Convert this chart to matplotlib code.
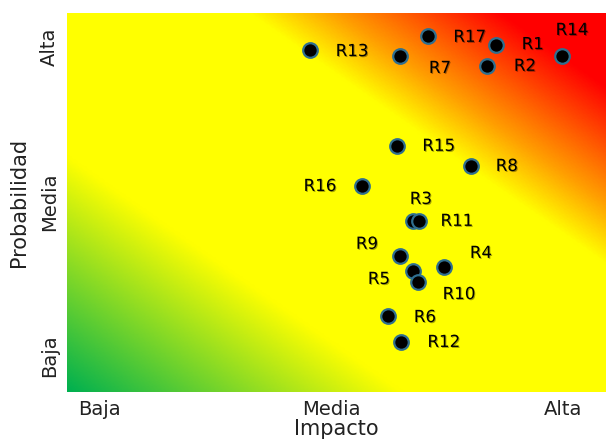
import numpy as np
import matplotlib
matplotlib.use("Agg")
import matplotlib.pyplot as plt
from matplotlib.colors import LinearSegmentedColormap
import matplotlib.patheffects as pe

# risk data (impacto: Baja=0, Media=5, Alta=10 ; probabilidad idem)
risks = ["R1", "R2", "R3", "R4", "R5", "R6", "R7", "R8", "R9", "R10",
         "R11", "R12", "R13", "R14", "R15", "R16", "R17"]
impacto = [8.55, 8.36, 6.76, 7.43, 6.76, 6.22, 6.48, 8.01, 6.48, 6.87,
           6.89, 6.50, 4.54, 9.98, 6.41, 5.66, 7.08]
probabilidad = [10.06, 9.39, 4.37, 2.88, 2.75, 1.29, 9.71, 6.15, 3.24, 2.39,
                4.37, 0.45, 9.90, 9.71, 6.80, 5.50, 10.36]
levels = ["Baja", "Media", "Alta"]
level_pos = [0, 5, 10]

# label offsets in pixels (dx, dy)
offsets = {
    "R1": (37, 1), "R2": (38, 0), "R3": (8, 22), "R4": (37, 14),
    "R5": (-34, -8), "R6": (37, -1), "R7": (40, -12), "R8": (36, 0),
    "R9": (-33, 12), "R10": (41, -12), "R11": (38, 0), "R12": (43, 0),
    "R13": (42, -1), "R14": (10, 26), "R15": (42, 0), "R16": (-42, 0),
    "R17": (42, -1),
}

fig = plt.figure(figsize=(6.06, 4.43), dpi=100)
W, H = 539, 379
ax = fig.add_axes([67 / 606, 51 / 443, W / 606, H / 443])

xmin, xmax = -0.71, 10.93
ymin, ymax = -1.17, 11.1

# diagonal gradient background green -> yellow -> red
cmap = LinearSegmentedColormap.from_list("risk", [
    (0.0, (0 / 255, 176 / 255, 80 / 255)),
    (0.31, (1, 1, 0)),
    (0.67, (1, 1, 0)),
    (0.75, (1, 160 / 255, 0)),
    (0.905, (1, 0, 0)),
    (1.0, (1, 0, 0)),
])
fx = np.linspace(0, 1, 400)
fy = np.linspace(0, 1, 300)
FX, FY = np.meshgrid(fx, fy)
t = (FX + FY) / 2
ax.imshow(t, cmap=cmap, origin="lower", extent=[xmin, xmax, ymin, ymax],
          aspect="auto", interpolation="bilinear", vmin=0, vmax=1, zorder=0)

ax.scatter(impacto, probabilidad, s=110, color="black",
           edgecolors="#2f6f8f", linewidths=1.6, zorder=3)

shadow = [pe.withSimplePatchShadow(offset=(0.7, -0.7), shadow_rgbFace="black", alpha=0.35)]
for name, x, y in zip(risks, impacto, probabilidad):
    dx, dy = offsets[name]
    ax.annotate(name, (x, y), xytext=(dx, dy), textcoords="offset pixels",
                ha="center", va="center", fontsize=12, color="black",
                path_effects=shadow, zorder=4)

ax.set_xlim(xmin, xmax)
ax.set_ylim(ymin, ymax)
ax.set_xticks(level_pos)
ax.set_xticklabels(levels, fontsize=14, color="#222222")
ax.set_yticks(level_pos)
ax.set_yticklabels(levels, fontsize=14, color="#222222", rotation=90, va="center")
ax.tick_params(length=0, pad=6)
for s in ax.spines.values():
    s.set_visible(False)

ax.set_xlabel("Impacto", fontsize=15, color="#222222", labelpad=0)
ax.set_ylabel("Probabilidad", fontsize=15, color="#222222", labelpad=8)

fig.savefig("out.png", dpi=100)
